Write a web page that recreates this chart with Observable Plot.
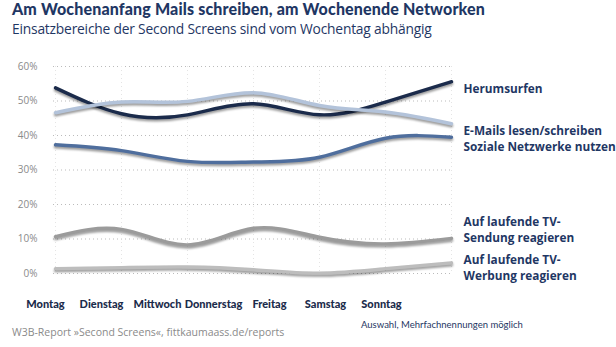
<!DOCTYPE html>
<html><head><meta charset="utf-8">
<script src="https://cdn.jsdelivr.net/npm/d3@7"></script>
<script src="https://cdn.jsdelivr.net/npm/@observablehq/plot@0.6"></script>
<style>
body{margin:0;background:#fff;width:616px;height:347px;position:relative;overflow:hidden;font-family:"Open Sans",sans-serif;}
#title{position:absolute;left:12px;top:0px;line-height:18px;font-family:"Lato";font-weight:900;font-size:16px;color:#1f3764;white-space:nowrap;letter-spacing:0.15px}
#subtitle{position:absolute;left:12px;top:20px;line-height:17px;font-family:"Open Sans";font-size:13.8px;color:#1f3764;white-space:nowrap;letter-spacing:-0.2px}
#main{position:absolute;left:0;top:52px;}
#xaxis{position:absolute;left:0;top:291px;}
#src{position:absolute;left:12px;top:325px;font-size:10.5px;color:#8a8a8a;white-space:nowrap;}
#note{position:absolute;left:361px;top:319px;font-family:"Lato";font-size:9.5px;color:#1f3764;white-space:nowrap;}
#main g[aria-label="line"] path{filter:drop-shadow(0px 2px 1.3px rgba(0,0,0,0.4));}
</style></head>
<body>
<div id="title">Am Wochenanfang Mails schreiben, am Wochenende Networken</div>
<div id="subtitle">Einsatzbereiche der Second Screens sind vom Wochentag abhängig</div>
<div id="main"></div>
<div id="xaxis"></div>
<div id="src">W3B-Report »Second Screens«, fittkaumaass.de/reports</div>
<div id="note">Auswahl, Mehrfachnennungen möglich</div>
<script>
const days = ["Montag","Dienstag","Mittwoch","Donnerstag","Freitag","Samstag","Sonntag"];
const seriesNames = ["Herumsurfen","E-Mails lesen/schreiben","Soziale Netzwerke nutzen","Auf laufende TV-Sendung reagieren","Auf laufende TV-Werbung reagieren"];
const herumsurfen = [53.8, 46.3, 46.0, 49.2, 46.0, 49.7, 55.6];
const emails      = [46.6, 49.7, 49.9, 52.4, 48.7, 46.8, 43.4];
const sozial      = [37.3, 35.6, 32.5, 32.3, 33.7, 39.2, 39.5];
const tvSendung   = [10.7, 12.8, 8.3, 13.1, 10.5, 8.6, 10.2];
const tvWerbung   = [1.4, 1.7, 1.9, 1.1, 0.1, 1.4, 3.1];
const colors = ["#1b2b4b","#b3c3da","#4f6e9d","#9b9b9b","#bdbdbd"];
const yTicks = [0,10,20,30,40,50,60];
const labelTexts = ["Herumsurfen","E-Mails lesen/schreiben","Soziale Netzwerke nutzen","Auf laufende TV-\nSendung reagieren","Auf laufende TV-\nWerbung reagieren"];
const labelValues = [53.9, 41.7, 37.1, 13.0, 2.0];

const allSeries = [herumsurfen, emails, sozial, tvSendung, tvWerbung];
const data = allSeries.flatMap((vals, s) => vals.map((v, i) => ({series: seriesNames[s], day: days[i], value: v})));
const labels = labelTexts.map((t, i) => ({text: t, day: days[days.length-1], value: labelValues[i]}));

const main = Plot.plot({
  width: 616, height: 230,
  marginLeft: 53, marginRight: 163, marginTop: 14, marginBottom: 9,
  style: {fontFamily: "Open Sans", overflow: "visible"},
  x: {type: "point", domain: days, padding: 0, axis: null},
  y: {domain: [0, 60], ticks: yTicks, tickFormat: d => d + "%"},
  color: {domain: seriesNames, range: colors},
  marks: [
    Plot.gridY(yTicks, {stroke: "#bbb", strokeOpacity: 1, strokeDasharray: "1,3"}),
    Plot.gridX(days, {stroke: "#e4e4e4", strokeOpacity: 1, strokeDasharray: "1,3"}),
    Plot.axisY(yTicks, {tickSize: 0, tickPadding: 16, tickFormat: d => d + "%", fill: "#8a8a8a", fontSize: 10, label: null}),
    Plot.line(data, {x: "day", y: "value", z: "series", stroke: "series", strokeWidth: 3.4, curve: "natural"}),
    Plot.text(labels, {x: "day", y: "value", text: "text", dx: 12, textAnchor: "start", fill: "#1f3764", fontWeight: "bold", fontSize: 11.8, fontFamily: "Open Sans", lineHeight: 1.42})
  ]
});
document.getElementById("main").appendChild(main);

const xaxis = Plot.plot({
  width: 616, height: 24,
  marginLeft: 43, marginRight: 234, marginTop: 0, marginBottom: 0,
  style: {fontFamily: "Lato", overflow: "visible"},
  x: {type: "point", domain: days, padding: 0},
  y: {domain: [0, 1], axis: null},
  marks: [
    Plot.axisX(days, {anchor: "top", tickSize: 0, tickPadding: 0, fill: "#1b2b4b", fontSize: 11, fontWeight: "900", label: null, dy: 16})
  ]
});
document.getElementById("xaxis").appendChild(xaxis);
</script>
</body></html>
